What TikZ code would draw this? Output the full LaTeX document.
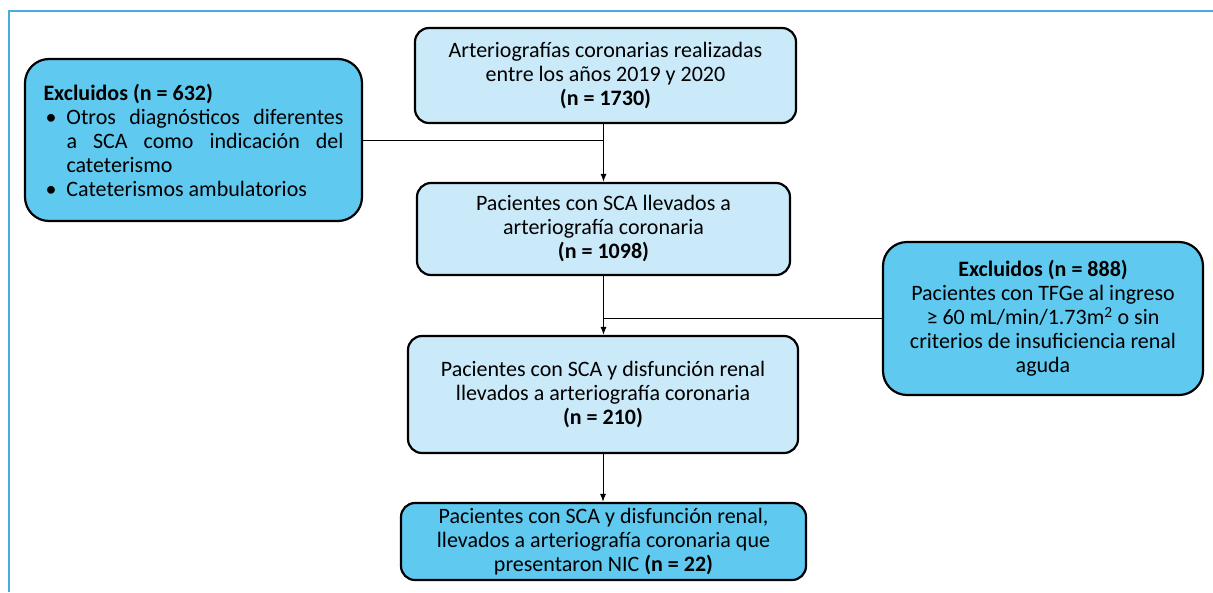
\documentclass[tikz,border=0pt]{standalone}
\usepackage{fontspec}
\setmainfont{Carlito}
\usetikzlibrary{arrows.meta}
\definecolor{paleblue}{RGB}{202,233,249}
\definecolor{skyblue}{RGB}{96,201,239}
\definecolor{framelines}{RGB}{72,172,226}
\tikzset{
  box/.style={draw=black, line width=2.2pt, rounded corners=14pt, align=center,
    inner sep=0pt, font=\fontsize{22}{24}\selectfont},
  stepbox/.style={box, fill=paleblue},
  exclbox/.style={box, fill=skyblue, rounded corners=24pt},
  link/.style={line width=1pt},
  arrowlink/.style={link, -{Latex[length=8pt,width=6pt]}},
}
\begin{document}
\begin{tikzpicture}[x=1pt, y=-1pt]
\useasboundingbox (0,0) rectangle (1213,592);
\draw[framelines, line width=1.5pt] (9,592) -- (9,11) -- (1213,11);
\node[stepbox, minimum width=381pt, minimum height=95pt] (A_0) at (605.5,75.5)
  {Arteriografías coronarias realizadas\\entre los años 2019 y 2020\\\textbf{(n = 1730)}};
\node[stepbox, minimum width=373pt, minimum height=92pt] (A_1) at (603.5,229)
  {Pacientes con SCA llevados a\\arteriografía coronaria\\\textbf{(n = 1098)}};
\node[stepbox, minimum width=390pt, minimum height=117pt] (A_2) at (603,394.5)
  {Pacientes con SCA y disfunción renal\\llevados a arteriografía coronaria\\\textbf{(n = 210)}};
\node[stepbox, fill=skyblue, minimum width=405pt, minimum height=77pt] (A_3) at (603.5,541.5)
  {Pacientes con SCA y disfunción renal,\\llevados a arteriografía coronaria que\\presentaron NIC \textbf{(n = 22)}};
\node[exclbox, minimum width=337pt, minimum height=162pt, align=left] (E_0) at (193.5,140)
  {\textbf{Excluidos (n = 632)}\\
   \makebox[23pt][l]{\hspace{2pt}\textbullet}\makebox[277pt][s]{Otros diagnósticos diferentes}\\
   \hspace*{23pt}\makebox[277pt][s]{a SCA como indicación del}\\
   \hspace*{23pt}cateterismo\\
   \makebox[23pt][l]{\hspace{2pt}\textbullet}Cateterismos ambulatorios};
\node[exclbox, minimum width=320pt, minimum height=153pt] (E_1) at (1043,318.5)
  {\textbf{Excluidos (n = 888)}\\Pacientes con TFGe al ingreso\\≥ 60 mL/min/1.73m\textsuperscript{2} o sin\\criterios de insuficiencia renal\\aguda};
\coordinate (J_0) at (A_1.north |- E_0.east);
\coordinate (J_1) at (A_1.south |- E_1.west);
\draw[arrowlink] (A_0.south -| A_1.north) -- (A_1.north);
\draw[link] (E_0.east) -- (J_0);
\draw[arrowlink] (A_1.south) -- (A_1.south |- A_2.north);
\draw[link] (J_1) -- (E_1.west);
\draw[arrowlink] (A_2.south) -- (A_2.south |- A_3.north);
\end{tikzpicture}
\end{document}
